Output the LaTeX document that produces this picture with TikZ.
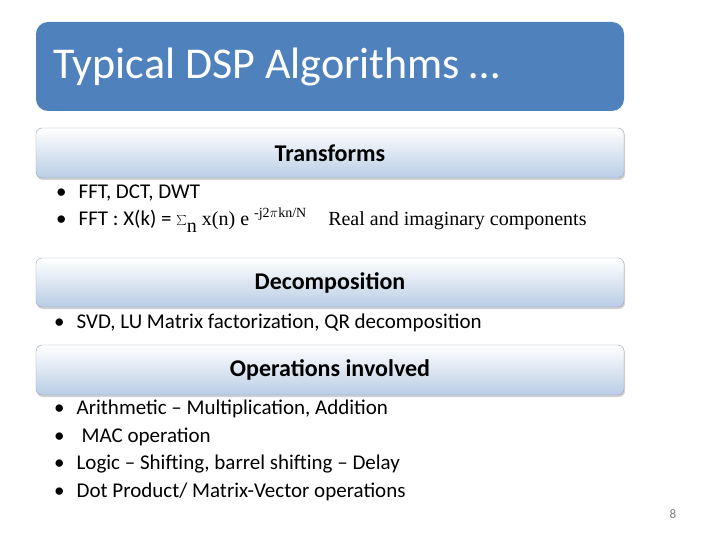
\documentclass[tikz,border=0pt]{standalone}
\usepackage{fontspec}
\setmainfont{Carlito}
\newfontfamily\tnr{Liberation Serif}
\usetikzlibrary{shadows}
\definecolor{titleblue}{HTML}{4F81BD}
\definecolor{barlo}{HTML}{B9CDE5}
\tikzset{
  bar/.style={rounded corners=6pt, top color=white, bottom color=barlo, draw=barlo!80!black, line width=0.4pt, drop shadow={opacity=0.35,shadow xshift=1pt,shadow yshift=-2pt}},
  bartext/.style={font=\fontsize{24}{28}\selectfont\bfseries, text=black},
  item/.style={anchor=west, font=\fontsize{21}{24}\selectfont, inner sep=0pt}
}
\begin{document}
\begin{tikzpicture}[x=1pt,y=-1pt]
\useasboundingbox (0,0) rectangle (720,540);
\fill[white] (0,0) rectangle (720,540);
\fill[titleblue, rounded corners=12pt] (36,22) rectangle (624,111);
\node[anchor=west, text=white, font=\fontsize{44}{48}\selectfont, inner sep=0pt] (title) at (53,67) {Typical DSP Algorithms …};

\draw[bar] (36,128) rectangle (624,178);
\node[bartext] (t1) at (330,153) {Transforms};
\node[item] (a1) at (56,193) {•\hspace{12pt}FFT, DCT, DWT};
\node[item] (a2) at (56,220) {•\hspace{12pt}FFT : X(k) = {\tnr\fontsize{20}{24}\selectfont$\sum$\raisebox{-7pt}{n} x(n) e \raisebox{8pt}{\fontsize{14}{14}\selectfont -j2$\pi$kn/N}\hspace{22pt}Real and imaginary components}};

\draw[bar] (36,258) rectangle (624,307);
\node[bartext] (t2) at (330,283) {Decomposition};
\node[item] (b1) at (54,323) {•\hspace{12pt}SVD, LU Matrix factorization, QR decomposition};

\draw[bar] (36,345) rectangle (624,395);
\node[bartext] (t3) at (330,370) {Operations involved};
\node[item] (c1) at (54,409) {•\hspace{12pt}Arithmetic – Multiplication, Addition};
\node[item] (c2) at (54,437) {•\hspace{17pt}MAC operation};
\node[item] (c3) at (54,464) {•\hspace{12pt}Logic – Shifting, barrel shifting – Delay};
\node[item] (c4) at (54,492) {•\hspace{12pt}Dot Product/ Matrix-Vector operations};

\node[text=gray, font=\fontsize{13}{14}\selectfont, inner sep=0pt] (pg) at (673,514) {8};
\end{tikzpicture}
\end{document}
